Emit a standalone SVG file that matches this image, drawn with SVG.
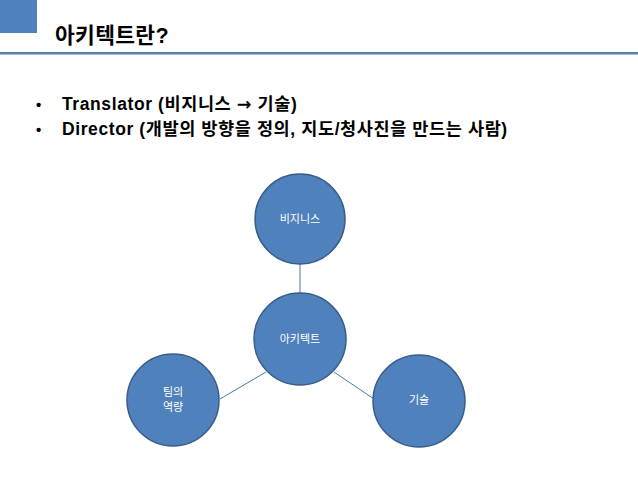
<svg xmlns="http://www.w3.org/2000/svg" width="638" height="479" viewBox="0 0 638 479">
<style>
.node{fill:#4f81bd;stroke:#385d8a;stroke-width:1.5}
.lbl{fill:#ffffff;font-family:"Liberation Sans","Noto Sans CJK KR",sans-serif;font-size:11px;text-anchor:middle}
.conn{stroke:#4a76a8;stroke-width:1;fill:none}
.body{fill:#000;font-family:"Liberation Sans","Noto Sans CJK KR",sans-serif;font-size:17.5px;font-weight:bold;letter-spacing:0.6px}
</style>
<rect width="638" height="479" fill="#ffffff"/>
<rect x="0" y="0" width="37" height="33" fill="#4f81bd"/>
<rect x="0" y="52" width="638" height="2.5" fill="#5b80b0"/>
<text x="55" y="43" style="font-family:'Liberation Sans','Noto Sans CJK KR',sans-serif;font-size:21.5px;font-weight:bold;letter-spacing:0.3px" fill="#000">아키텍트란?</text>
<text x="36" y="110" class="body" style="font-size:15px">•</text>
<text x="62" y="110" class="body">Translator (비지니스 <tspan style="font-family:'DejaVu Sans',sans-serif">→</tspan> 기술)</text>
<text x="36" y="135" class="body" style="font-size:15px">•</text>
<text x="62" y="135" class="body">Director (개발의 방향을 정의, 지도/청사진을 만드는 사람)</text>
<g id="connectors">
<line class="conn" x1="300" y1="264" x2="300" y2="293"/>
<line class="conn" x1="220" y1="399" x2="266" y2="372"/>
<line class="conn" x1="334" y1="372" x2="374" y2="399"/>
</g>
<g id="business">
<circle class="node" cx="300" cy="219" r="45"/>
<text class="lbl" x="300" y="223">비지니스</text>
</g>
<g id="architect">
<circle class="node" cx="300" cy="339" r="46"/>
<text class="lbl" x="300" y="343">아키텍트</text>
</g>
<g id="team">
<circle class="node" cx="173" cy="400" r="46"/>
<text class="lbl" x="173" y="396">팀의</text>
<text class="lbl" x="173" y="411">역량</text>
</g>
<g id="tech">
<circle class="node" cx="419" cy="401" r="46"/>
<text class="lbl" x="419" y="404">기술</text>
</g>
</svg>
